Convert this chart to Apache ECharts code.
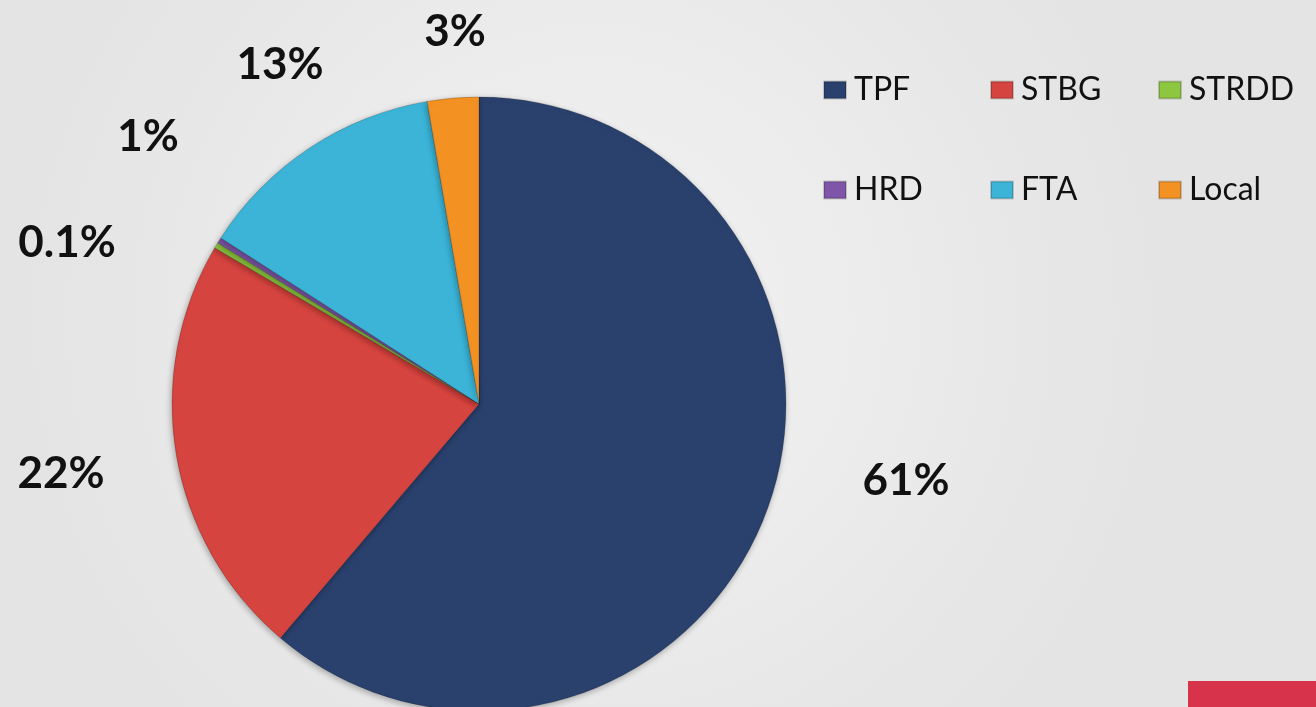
<!DOCTYPE html>
<html>
<head>
<meta charset="utf-8">
<style>
  html, body { margin: 0; padding: 0; }
  #chart { width: 1316px; height: 707px; }
</style>
<script src="https://cdn.jsdelivr.net/npm/echarts@6/dist/echarts.min.js"></script>
</head>
<body>
<div id="chart"></div>
<script>
// funding sources, share of total (%)
const sources = ['TPF', 'STBG', 'STRDD', 'HRD', 'FTA', 'Local']
const shares = [61.2, 22.3, 0.3, 0.3, 13.2, 2.7]
// percentage labels as printed on the chart
const shareLabels = ['61%', '22%', '0.1%', '1%', '13%', '3%']
const colors = ['#2a416e', '#d6443f', '#8dc63f', '#7e55a8', '#3bb4d7', '#f39222']

// where each percentage label sits (label centre, px)
const labelSpots = [[906, 481], [61, 474], [67, 243], [148, 137], [280, 65], [455, 32]]

const chart = echarts.init(document.getElementById('chart'))

const legendBase = {
    orient: 'vertical',
    top: 74,
    padding: 0,
    itemWidth: 22,
    itemHeight: 17,
    itemGap: 68,
    icon: 'rect',
    textStyle: {
        fontFamily: 'Lato',
        fontSize: 32,
        lineHeight: 30,
        color: '#111',
        padding: [0, 0, 0, 3]
    }
}

const option = {
    backgroundColor: {
        type: 'radial', x: 0.45, y: 0.45, r: 0.8,
        colorStops: [
            { offset: 0, color: '#f3f3f3' },
            { offset: 1, color: '#e4e4e4' }
        ]
    },
    color: colors,
    legend: [
        { ...legendBase, left: 823, data: [sources[0], sources[3]] },
        { ...legendBase, left: 990, data: [sources[1], sources[4]] },
        { ...legendBase, left: 1158, data: [sources[2], sources[5]] }
    ],
    graphic: [{
        type: 'rect',
        shape: { x: 1188, y: 681, width: 128, height: 26 },
        style: { fill: '#d7334a' }
    }],
    series: [{
        type: 'pie',
        center: [479, 404],
        radius: 307,
        startAngle: 90,
        clockwise: true,
        avoidLabelOverlap: false,
        itemStyle: {
            borderColor: 'rgba(0,0,0,0.18)',
            borderWidth: 1,
            shadowBlur: 6,
            shadowColor: 'rgba(0,0,0,0.3)',
            shadowOffsetX: -1,
            shadowOffsetY: 2
        },
        label: {
            show: true,
            position: 'outside',
            fontFamily: 'Lato',
            fontWeight: 'bold',
            fontSize: 44,
            color: '#111',
            formatter: p => shareLabels[p.dataIndex]
        },
        labelLine: { show: false },
        labelLayout: p => ({
            x: labelSpots[p.dataIndex][0],
            y: labelSpots[p.dataIndex][1],
            align: 'center',
            verticalAlign: 'middle'
        }),
        emphasis: { disabled: true },
        data: sources.map((name, i) => ({ name, value: shares[i] }))
    }]
}

chart.setOption(option)
</script>
</body>
</html>
